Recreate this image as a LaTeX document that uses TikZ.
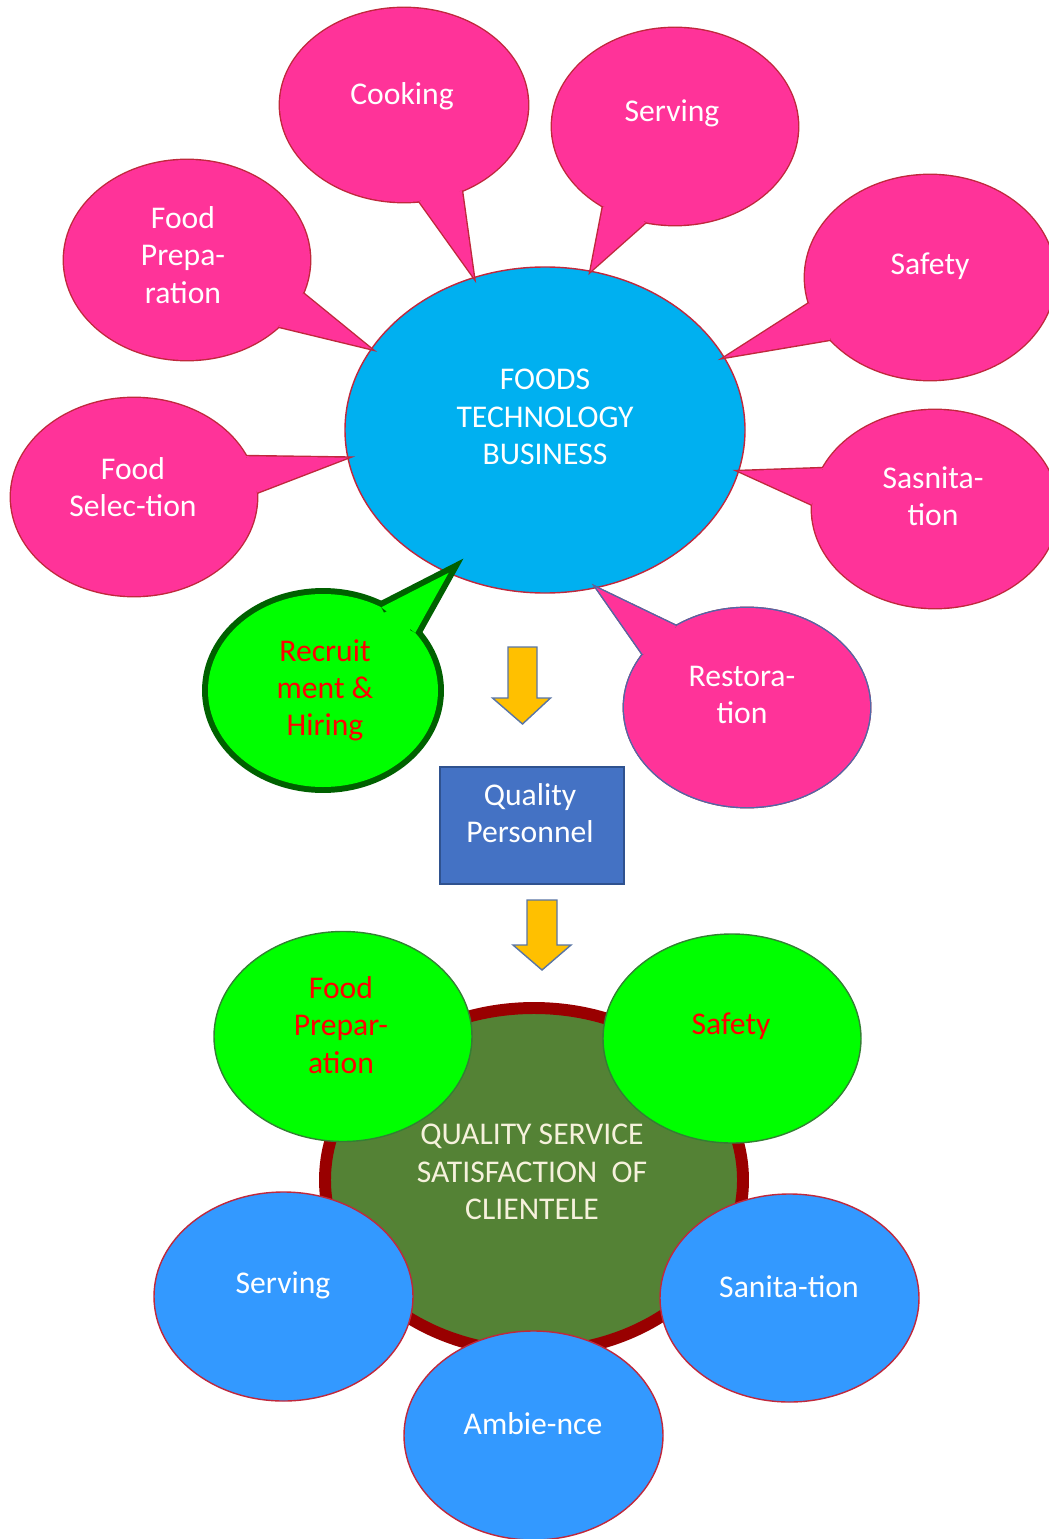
\documentclass[tikz,border=0pt]{standalone}
\usepackage{fontspec}
\setmainfont{Carlito}
\usetikzlibrary{shapes.geometric}
\usetikzlibrary{calc}
\definecolor{bubblepink}{HTML}{FF3399}
\definecolor{edgered}{HTML}{C0283C}
\definecolor{hubblue}{HTML}{00B0F0}
\definecolor{restedge}{HTML}{5068A8}
\definecolor{limegreen}{HTML}{00FF00}
\definecolor{deepgreen}{HTML}{006000}
\definecolor{skyblue}{HTML}{3399FF}
\definecolor{olivegreen}{HTML}{548235}
\definecolor{maroonedge}{HTML}{990000}
\definecolor{boxblue}{HTML}{4472C4}
\definecolor{boxedge}{HTML}{2F528F}
\definecolor{gold}{HTML}{FFC000}
\definecolor{cream}{HTML}{F6F1DC}
\tikzset{
every picture/.style={line width=0.4pt},
%%%%%%%%%%  Node styles
bubble/.style={ellipse, inner sep=0pt, outer sep=0pt},
pink bubble/.style={bubble, fill=bubblepink,
                    preaction={draw=edgered, line width=0.8pt}},
hub/.style={bubble, fill=hubblue, draw=edgered},
green ball/.style={bubble, fill=limegreen, draw=deepgreen!80},
blue ball/.style={bubble, fill=skyblue, draw=edgered},
%%%% tails of the speech bubbles
pink tail/.style={fill=bubblepink, preaction={draw=edgered, line width=0.8pt}},
%%%%%%% Text styles %%%%%%%%%%%%%%%
txt/.style={align=center, inner sep=0pt, font=\fontsize{9}{10.6}\selectfont},
white txt/.style={txt, text=white},
red txt/.style={txt, text=red},
%%%%%%% Block arrows
blockarrow/.style={fill=gold, draw=boxedge!80, line join=miter}
}

\begin{document}
\begin{tikzpicture}
\useasboundingbox (0,0) rectangle (10.49,-15.39);
%% centre of the upper part
\node[hub, minimum width=4.00cm, minimum height=3.26cm] (hub) at (5.45,-4.30) {};
\node[white txt] (hubT) at (5.45,-4.17) {FOODS\\TECHNOLOGY\\BUSINESS};
%% speech bubbles round it
\node[pink bubble, minimum width=2.48cm, minimum height=1.94cm] (cook) at (4.04,-1.05) {};
\path[pink tail] (cook.279) -- (hub.115) -- (cook.304);
\node[white txt] (cookT) at (4.02,-0.96) {Cooking};

\node[pink bubble, minimum width=2.46cm, minimum height=1.97cm] (serve) at (6.75,-1.265) {};
\path[pink tail] (serve.228) -- (hub.74) -- (serve.253);
\node[white txt] (serveT) at (6.72,-1.13) {Serving};

\node[pink bubble, minimum width=2.46cm, minimum height=2.00cm] (prep) at (1.87,-2.60) {};
\path[pink tail] (prep.344) -- (hub.155) -- (prep.324);
\node[white txt] (prepT) at (1.83,-2.55) {Food\\Prepa-\\ration};

\node[pink bubble, minimum width=2.50cm, minimum height=2.05cm] (safe) at (9.30,-2.775) {};
\path[pink tail] (safe.192) -- (hub.22) -- (safe.212);
\node[white txt] (safeT) at (9.30,-2.66) {Safety};

\node[pink bubble, minimum width=2.46cm, minimum height=1.98cm] (select) at (1.34,-4.97) {};
\path[pink tail] (select.20) -- (hub.188) -- (select.2);
\node[white txt] (selectT) at (1.33,-4.87) {Food\\Selec-tion};

\node[pink bubble, minimum width=2.46cm, minimum height=1.98cm] (sanit) at (9.35,-5.09) {};
\path[pink tail] (sanit.160) -- (hub.348) -- (sanit.178);
\node[white txt] (sanitT) at (9.33,-4.965) {Sasnita-\\tion};

\node[pink bubble, preaction={draw=restedge, line width=0.8pt},
      minimum width=2.46cm, minimum height=1.99cm] (restore) at (7.47,-7.075) {};
\path[pink tail, preaction={draw=restedge, line width=0.8pt}]
      (restore.131) -- (hub.288) -- (restore.153);
\node[white txt] (restoreT) at (7.42,-6.95) {Restora-\\tion};

\node[bubble, fill=limegreen, preaction={draw=deepgreen, line width=3.4pt},
      minimum width=2.30cm, minimum height=1.93cm] (recruit) at (3.23,-6.905) {};
\path[fill=limegreen, preaction={draw=deepgreen, line width=3.4pt}]
      (recruit.55) -- (hub.236) -- (recruit.32);
\node[red txt] (recruitT) at (3.25,-6.905) {Recruit\\ment \&\\Hiring};

%% down to the personnel box
\coordinate (arrowone) at (5.225,-6.47);
\draw[blockarrow, shift={(arrowone)}] (-0.145,0) -- (-0.145,-0.51) -- (-0.30,-0.51)
     -- (0,-0.77) -- (0.28,-0.51) -- (0.145,-0.51) -- (0.145,0) -- cycle;
\node[fill=boxblue, draw=boxedge, minimum width=1.84cm, minimum height=1.17cm,
      inner sep=0pt] (staff) at (5.32,-8.255) {};
\node[white txt] (staffT) at (5.30,-8.13) {Quality\\Personnel};
\coordinate (arrowtwo) at (5.42,-9.00);
\draw[blockarrow, shift={(arrowtwo)}] (-0.15,0) -- (-0.15,-0.45) -- (-0.29,-0.45)
     -- (0,-0.70) -- (0.29,-0.45) -- (0.15,-0.45) -- (0.15,0) -- cycle;

%% lower part
\node[bubble, fill=olivegreen, draw=maroonedge, line width=3.4pt,
      minimum width=4.18cm, minimum height=3.44cm] (service) at (5.34,-11.80) {};
\node[txt, text=cream] (serviceT) at (5.32,-11.72)
      {QUALITY SERVICE\\SATISFACTION~ OF\\CLIENTELE};
\node[green ball, minimum width=2.58cm, minimum height=2.10cm] (gprep) at (3.43,-10.365) {};
\node[red txt] (gprepT) at (3.41,-10.25) {Food\\Prepar-\\ation};
\node[green ball, minimum width=2.58cm, minimum height=2.09cm] (gsafe) at (7.32,-10.385) {};
\node[red txt] (gsafeT) at (7.31,-10.26) {Safety};
\node[blue ball, minimum width=2.59cm, minimum height=2.09cm] (bserve) at (2.835,-12.965) {};
\node[white txt] (bserveT) at (2.83,-12.85) {Serving};
\node[blue ball, minimum width=2.59cm, minimum height=2.08cm] (bsanit) at (7.895,-12.98) {};
\node[white txt] (bsanitT) at (7.89,-12.87) {Sanita-tion};
\node[blue ball, minimum width=2.59cm, minimum height=2.09cm] (ambience) at (5.335,-14.355) {};
\node[white txt] (ambienceT) at (5.33,-14.24) {Ambie-nce};
\end{tikzpicture}
\end{document}
